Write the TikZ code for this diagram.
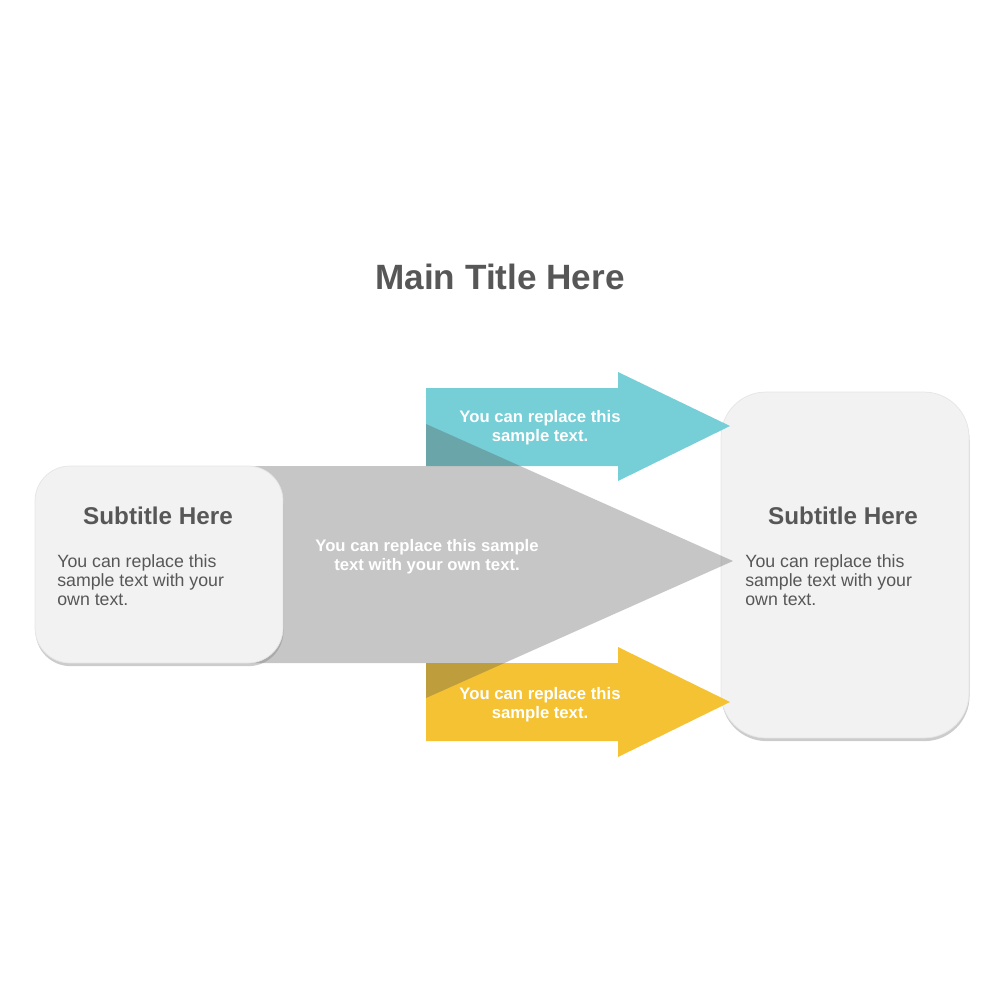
\documentclass[tikz,border=0pt]{standalone}
\usepackage{fontspec}
\setmainfont{Liberation Sans}
\usepackage{tikz}
\usetikzlibrary{positioning, shadows}
\definecolor{boxgray}{HTML}{F2F2F2}
\definecolor{inkgray}{HTML}{575757}
\definecolor{arrowteal}{HTML}{76CED6}
\definecolor{arrowgold}{HTML}{F4C232}
\definecolor{arrowshade}{RGB}{82, 82, 82}
\tikzset{
  card/.style={
    draw=black!10,
    line width=0.4pt,
    fill=boxgray,
    minimum width=4.96cm,
    inner sep=0pt,
    drop shadow={shadow xshift=0.3pt, shadow yshift=-1.8pt, opacity=0.4}
  },
  maintitle/.style={
    font=\fontsize{20}{24}\selectfont\bfseries,
    text=inkgray,
    inner sep=0pt
  },
  subtitle/.style={
    font=\fontsize{13.8}{16}\selectfont\bfseries,
    text=inkgray,
    inner sep=0pt
  },
  bodytext/.style={
    font=\fontsize{10.1}{10.8}\selectfont,
    text=inkgray,
    align=left,
    inner sep=0pt
  },
  arrowtext/.style={
    font=\fontsize{9.5}{10.8}\selectfont\bfseries,
    text=white,
    align=center,
    inner sep=0pt
  }
}

\begin{document}
\begin{tikzpicture}[x=0.02cm, y=-0.02cm]
  \useasboundingbox (0,0) rectangle (1000,1000);

  \node[maintitle, anchor=base] (title) at (500,289) {Main Title Here};

  % target card
  \node[card, minimum height=6.92cm, rounded corners=0.9cm] (rbox) at (845,565) {};

  % coloured arrows
  \fill[arrowteal] (426,388) -- (618,388) -- (618,372) -- (730,426)
    -- (618,481) -- (618,466) -- (426,466) -- cycle;
  \fill[arrowgold] (426,663) -- (618,663) -- (618,647) -- (730,702)
    -- (618,757) -- (618,741) -- (426,741) -- cycle;

  % big shaded arrow
  \fill[arrowshade, opacity=0.33] (248,466) -- (426,466) -- (426,424) -- (733,561)
    -- (426,698) -- (426,663) -- (248,663) -- cycle;

  % source card
  \node[card, minimum height=3.94cm, rounded corners=0.7cm] (lbox) at (159,564.5) {};

  \node[subtitle, anchor=base] (ltitle) at (158,524) {Subtitle Here};
  \node[bodytext, anchor=north west] (ltext) at (57,554)
    {You can replace this\\sample text with your\\own text.};

  \node[subtitle, anchor=base] (rtitle) at (843,524) {Subtitle Here};
  \node[bodytext, anchor=north west] (rtext) at (745,554)
    {You can replace this\\sample text with your\\own text.};

  \node[arrowtext, anchor=north] (gtext) at (427,539)
    {You can replace this sample\\text with your own text.};
  \node[arrowtext, anchor=north] (btext) at (540,410)
    {You can replace this\\sample text.};
  \node[arrowtext, anchor=north] (ytext) at (540,687)
    {You can replace this\\sample text.};
\end{tikzpicture}
\end{document}
